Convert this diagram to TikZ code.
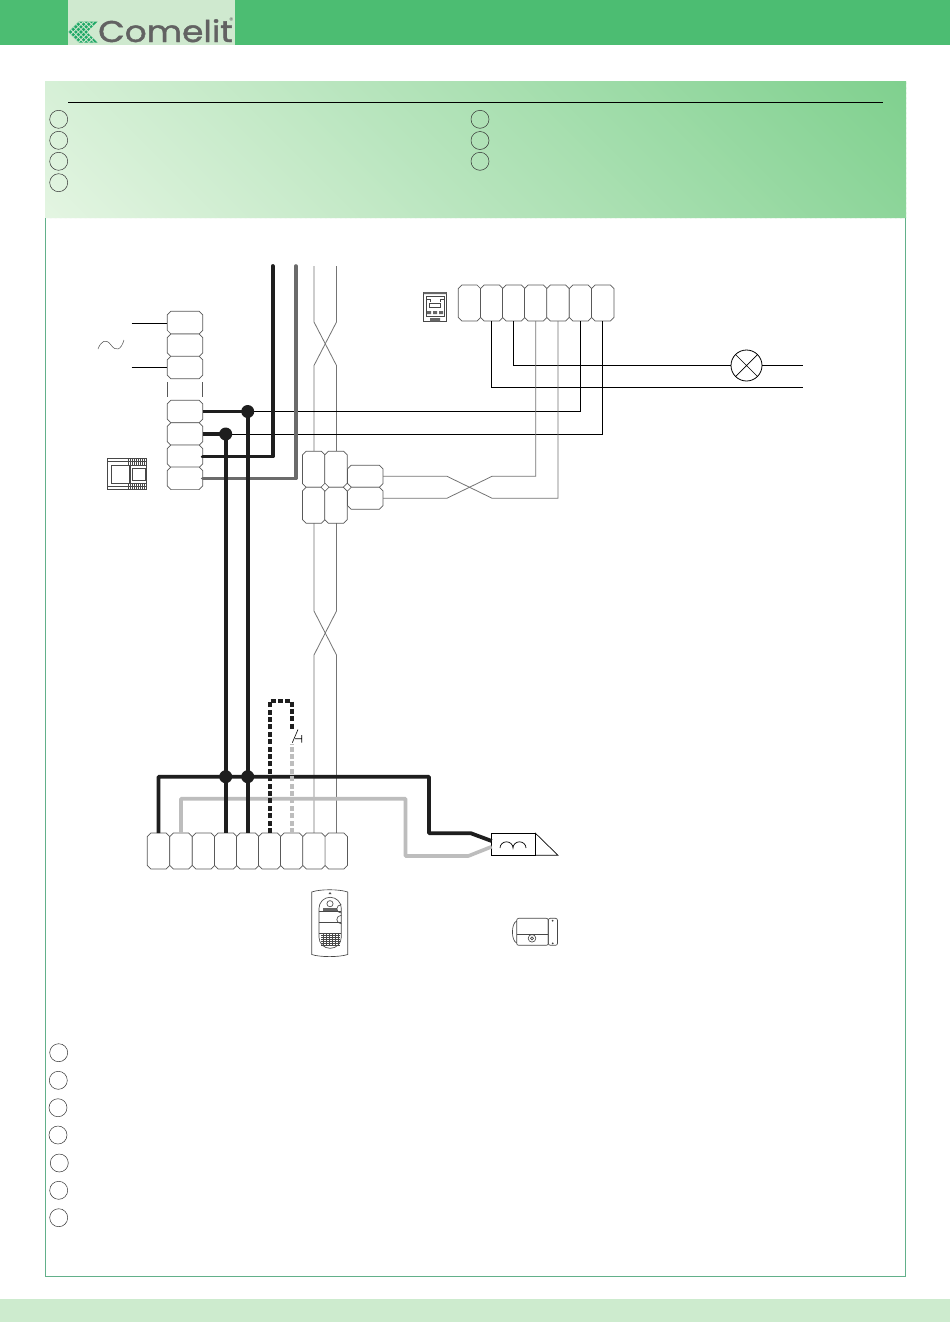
\documentclass[tikz,border=0pt]{standalone}
\usepackage{fontspec}
\setmainfont{Poppins}
\newfontfamily\logofont[FakeBold=1.3]{Poppins}
\usetikzlibrary{calc}
\definecolor{hdr}{HTML}{4CBD72}
\definecolor{logobg}{HTML}{CFE9CF}
\definecolor{frm}{HTML}{62B08A}
\definecolor{strip}{HTML}{CDEBCE}
\definecolor{tw}{HTML}{747474}
\definecolor{thk}{HTML}{1E1E1E}
\definecolor{gr}{HTML}{6B6B6B}
\definecolor{lg}{HTML}{BDBDBD}
\definecolor{logog}{HTML}{1FA867}
\definecolor{logot}{HTML}{626262}
\definecolor{pnA}{HTML}{7FD08E}
\definecolor{pnB}{HTML}{E4F5E2}
\tikzset{
 termnode/.style={inner sep=0pt,outer sep=0pt,minimum width=#1},
 termline/.style={draw=black!65,line width=.7pt,fill=white},
 keycirc/.style={draw=black!80,line width=.5pt,circle,inner sep=0pt,minimum size=18pt},
 twist/.style={draw=tw,line width=.8pt},
 thinw/.style={draw=black,line width=.7pt},
 heavy/.style={draw=thk,line width=3.8pt},
 heavygr/.style={draw=gr,line width=3.6pt},
 heavylg/.style={draw=lg,line width=3.6pt},
 joint/.style={circle,fill=thk,inner sep=0pt,minimum size=13pt},
 icon/.style={draw=black!72,line width=.65pt},
}
% name, cx, cy, width, height
\newcommand{\termbox}[5]{%
 \node[termnode=#4,minimum height=#5] (#1) at (#2,#3) {};
 \draw[termline] ($(#1.north west)+(3.6,0)$) -- ($(#1.north east)+(-3.6,0)$) -- ($(#1.north east)+(0,3.6)$) -- ($(#1.south east)+(0,-3.6)$) -- ($(#1.south east)+(-3.6,0)$) -- ($(#1.south west)+(3.6,0)$) -- ($(#1.south west)+(0,-3.6)$) -- ($(#1.north west)+(0,3.6)$) -- cycle;
}
\begin{document}
\begin{tikzpicture}[x=1pt,y=-1pt]
\useasboundingbox (0,0) rectangle (950,1344);
\fill[white] (0,0) rectangle (950,1344);
% header
\fill[hdr] (0,0) rectangle (950,45);
\fill[logobg] (68,0) rectangle (235,45);
\begin{scope}
 \clip (68,32) -- (78.5,21.5) -- (97.5,21.5) -- (87,32) -- (97.5,42.5) -- (78.5,42.5) -- cycle;
 \fill[logog] (60,15) rectangle (105,50);
 \foreach \t in {0,5.2,...,36} {
  \draw[logobg,line width=.8pt] (68+\t,32) ++(-15,-15) -- ++(30,30);
  \draw[logobg,line width=.8pt] (68+\t,32) ++(-15,15) -- ++(30,-30);
 }
\end{scope}
\node[anchor=base west,inner sep=0pt,text=logot,xscale=1.145,font=\logofont\fontsize{30}{30}\selectfont] (logotext) at (98,42) {Comelit};
\node[anchor=center,inner sep=0pt,text=logot,font=\fontsize{8}{8}\selectfont] (logor) at (231.5,20.5) {®};
% top key panel
\begin{scope}
 \clip (45,81) rectangle (906,218);
 \foreach \i in {0,...,199} {
  \pgfmathsetmacro{\tz}{\i*5}
  \pgfmathsetmacro{\tw}{\i*5+6.5}
  \pgfmathsetmacro{\pc}{\i/1.99}
  \fill[pnA!\pc!pnB] (45+\tz,218) -- (45+\tz-137,81) -- (45+\tw-137,81) -- (45+\tw,218) -- cycle;
 }
\end{scope}
\draw[frm,line width=.7pt] (45,218) -- (45,1276) -- (905,1276) -- (905,218);
\draw[black,line width=.6pt] (68,102.5) -- (883,102.5);
\foreach \n/\x/\y in {a/58.7/119.3,b/58.7/140.3,c/58.7/161.3,d/58.7/182.7,e/480/119.3,f/480/140.5,g/480/161.3,
 h/58.7/1052.7,i/58.3/1080.3,j/58/1107.7,k/58/1135,l/59.3/1163,m/58.7/1190.3,n/58.7/1217.7}
 \node[keycirc] (k\n) at (\x,\y) {};
% bottom strip
\fill[strip] (0,1299) rectangle (950,1322);

% twisted pair
\draw[twist] (314,266) -- (314,322) -- (336.5,365.5) -- (336.5,451);
\draw[twist] (336.5,266) -- (336.5,322) -- (314,365.5) -- (314,451);
\draw[twist] (314,523) -- (314,611) -- (336.5,655) -- (336.5,833);
\draw[twist] (336.5,523) -- (336.5,611) -- (314,655) -- (314,833);
\coordinate (ja) at (247.7,411.5);
\coordinate (jb) at (225.7,434);
% left block
\termbox{p1}{185}{322.6}{35.4}{22.6}
\termbox{p2}{185}{345.2}{35.4}{22.6}
\termbox{p3}{185}{367.5}{35.4}{22.6}
\termbox{p4}{185}{411.5}{35.4}{22.6}
\termbox{p5}{185}{434}{35.4}{22.6}
\termbox{p6}{185}{456.3}{35.4}{22.6}
\termbox{p7}{185}{478.3}{35.4}{22.6}
\draw[black!65,line width=.6pt] (167.5,382) -- (167.5,397) (202.5,382) -- (202.5,397);
\coordinate (m1) at (131.7,323.3);
\coordinate (m2) at (131.7,367.3);
\draw[thinw] (m1) -- (p1.west |- m1);
\draw[thinw] (m2) -- (p3.west |- m2);
\draw[black!70,line width=.5pt] (98,349) .. controls (101,341) and (106,338) .. (111,345) .. controls (116,352) and (121,350) .. (124,340);
% top right terminals
\termbox{t1}{469.4}{303}{22.4}{36}
\termbox{t2}{491.7}{303}{22.4}{36}
\termbox{t3}{513.7}{303}{22.4}{36}
\termbox{t4}{535.7}{303}{22.4}{36}
\termbox{t5}{558}{303}{22.4}{36}
\termbox{t6}{580.5}{303}{22.4}{36}
\termbox{t7}{602.7}{303}{22.4}{36}
% thin connections
\draw[thinw] (ja) -- (t6.south |- ja) -- (t6.south);
\draw[thinw] (jb) -- (t7.south |- jb) -- (t7.south);
\node[circle,draw=black,line width=.8pt,fill=white,inner sep=0pt,minimum size=31pt] (lamp) at (746.5,365.5) {};
\draw[black,line width=.7pt] (lamp.45) -- (lamp.225) (lamp.135) -- (lamp.315);
\coordinate (le) at (803,365.5);
\coordinate (lf) at (803,387);
\draw[thinw] (t3.south) -- (t3.south |- lamp) -- (lamp.west);
\draw[thinw] (lamp.east) -- (le);
\draw[thinw] (t2.south) -- (t2.south |- lf) -- (lf);
% heavy wires
\coordinate (w1) at (272.7,266);
\coordinate (w2) at (295.7,266);
\draw[heavy,line cap=round,line join=round] (w1) -- (272.7,456.5) -- (p6.east |- 0,456.5);
\draw[heavygr,line cap=round,line join=round] (w2) -- (295.7,478.5) -- (p7.east |- 0,478.5);
\coordinate (jc) at (225.7,776.7);
\coordinate (jd) at (247.7,776.7);
\draw[heavy] (p4.east |- ja) -- (ja);
\draw[heavy] (p5.east |- jb) -- (jb);
\draw[heavy] (ja) -- (jd);
\draw[heavy] (jb) -- (jc);
\node[joint] (jna) at (ja) {};
\node[joint] (jnb) at (jb) {};
% twisted block
\termbox{q1}{313.7}{469.2}{22.4}{36}
\termbox{q2}{336}{469.2}{22.4}{36}
\termbox{q3}{313.7}{505.2}{22.4}{36}
\termbox{q4}{336}{505.2}{22.4}{36}
\termbox{r1}{365.2}{476.3}{35.6}{22}
\termbox{r2}{365.2}{498.2}{35.6}{22}
\foreach \n/\x in {d1/325,d2/347.3}
 \fill[white,draw=black!65,line width=.6pt] (\x-4,487.2) -- (\x,483.2) -- (\x+4,487.2) -- (\x,491.2) -- cycle;
\draw[twist] (r1.east) -- (447,476.3) -- (492,498.2) -- (558,498.2) -- (t5.south);
\draw[twist] (r2.east) -- (447,498.2) -- (492,476.3) -- (535.7,476.3) -- (t4.south);
% bottom terminals
\termbox{b1}{158.5}{851}{22.4}{36}
\termbox{b2}{181}{851}{22.4}{36}
\termbox{b3}{203.5}{851}{22.4}{36}
\termbox{b4}{225.7}{851}{22.4}{36}
\termbox{b5}{247.7}{851}{22.4}{36}
\termbox{b6}{269.7}{851}{22.4}{36}
\termbox{b7}{291.7}{851}{22.4}{36}
\termbox{b8}{314}{851}{22.4}{36}
\termbox{b9}{336.3}{851}{22.4}{36}
% relay
\node[draw=black,line width=.7pt,fill=white,minimum width=43.8pt,minimum height=22pt,inner sep=0pt,outer sep=0pt] (relay) at (513.6,844.3) {};
\draw[black,line width=.7pt] (relay.north east) -- (558,855.3) -- (relay.south east) -- cycle;
\draw[black,line width=.7pt] (500,848) arc (180:360:6.5 and 6.2) arc (180:360:6.5 and 6.2);
% bottom wiring
\draw[heavylg,line join=round] (b2.north) -- (b2.north |- 0,798.7) -- (405.5,798.7) -- (405.5,856) -- (468.3,856) -- (relay.west |- 0,846.7);
\draw[heavy,line join=round] (b1.north) -- (b1.north |- jc) -- (429,776.7) -- (429,833.3) -- (471,833.3) -- (relay.west |- 0,841);
\draw[heavy] (jc) -- (b4.north);
\draw[heavy] (jd) -- (b5.north);
\node[joint] (jnc) at (jc) {};
\node[joint] (jnd) at (jd) {};
\draw[heavy,dash pattern=on 5pt off 2.4pt,line width=3.6pt] (b6.north) -- (b6.north |- 0,700.7) -- (292,700.7) -- (292,731);
\draw[heavylg,dash pattern=on 5pt off 2.4pt,line width=3.6pt] (b7.north) -- (b7.north |- 0,744);
\draw[black,line width=.6pt] (292.3,742.7) -- (298,729.5) (295,738.7) -- (301.7,738.7) (301.7,735) -- (301.7,742.7);
% device left
\begin{scope}[icon]
 \draw (107.3,458) rectangle (146.7,489.7);
 \draw (107.3,461) -- (146.7,461) (107.3,486.5) -- (146.7,486.5);
 \draw (111.5,465) rectangle (129,483.5);
 \draw (130.5,465) -- (146.7,465) (130.5,483.5) -- (146.7,483.5) (130.5,465) -- (130.5,483.5);
 \draw (132,468.5) rectangle (145.5,480.5);
 \foreach \x in {128,130,...,146} \draw (\x,458) -- (\x,465) (\x,483.5) -- (\x,489.7);
\end{scope}
% device top
\begin{scope}[icon]
 \draw[line width=.9pt] (423.5,292) rectangle (446.5,321.5);
 \draw (426,296) -- (444,296) -- (444,316) -- (426,316) -- cycle;
 \draw (429.5,303) rectangle (440,307.5);
 \draw (426,299) -- (430,299) -- (430,302) (444,299) -- (440,299) -- (440,302);
 \fill[black!60] (427,311) rectangle (431,314) (433,311) rectangle (437,314) (439,311) rectangle (443,314);
 \fill[black!60] (423.5,292) rectangle (446.5,294) (430,318) rectangle (440,321.5);
\end{scope}
% door panel
\begin{scope}[icon]
 \draw (311.7,892) .. controls (320,889) and (339,889) .. (347.7,892) -- (347.7,954.5) .. controls (339,957.3) and (320,957.3) .. (311.7,954.5) -- cycle;
 \draw[rounded corners=11pt] (319,897.3) rectangle (341.3,948.3);
 \fill[black!70] (328.5,894) -- (331.5,894) -- (330,892) -- cycle;
 \draw (330,903.7) circle (3.1);
 \fill[black!60] (323,908) rectangle (336.5,911);
 \draw (319,911.7) -- (341.3,911.7) (319,922) -- (341.3,922) (319,933.3) -- (341.3,933.3);
 \draw (341.3,913) arc (90:270:4.5 and 4.2) (341.3,923.7) arc (90:270:4.5 and 4.2);
 \foreach \y in {935,937,...,945} \draw (321,\y) -- (339.5,\y);
 \foreach \x in {323,326,...,338} \draw (\x,934) -- (\x,946);
\end{scope}
% lock
\begin{scope}[icon]
 \draw[rounded corners=2pt] (516.7,918.3) rectangle (548.3,945.3);
 \draw[rounded corners=2pt] (548.3,918.3) rectangle (557.5,945.3);
 \draw (516.7,921) .. controls (511,923) and (511,941) .. (516.7,943);
 \draw (516.7,934) -- (548.3,934);
 \draw (532,938.3) circle (3.8);
 \draw (532,938.3) circle (1.5);
 \fill[black!75] (552.7,920.7) circle (1) (552.7,943.3) circle (1);
\end{scope}
\end{tikzpicture}
\end{document}
